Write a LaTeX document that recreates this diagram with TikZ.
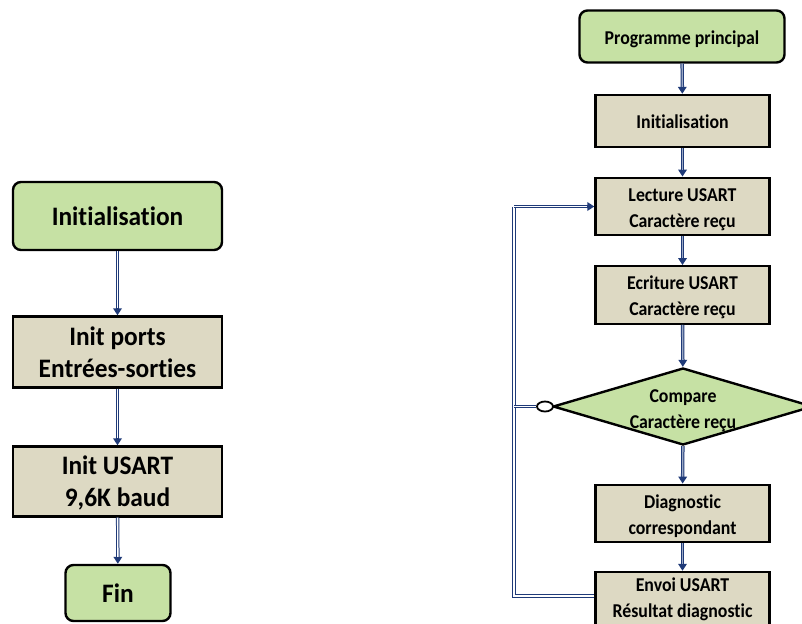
\documentclass[tikz,border=0pt]{standalone}
\usepackage{fontspec}
\usepackage{graphicx}
\setmainfont{Carlito}[Ligatures=NoCommon]
\usetikzlibrary{arrows.meta,shapes.geometric}
\definecolor{navy}{HTML}{1F3A78}
\definecolor{boxtan}{HTML}{DDD9C3}
\definecolor{termgreen}{HTML}{C6E1A4}
\definecolor{innerblue}{HTML}{9AA8C4}
\newcommand\stx[3]{\raisebox{0pt}[\dimexpr\height+#1\relax][\depth]{\scalebox{1}[#2]{\begin{tabular}{@{}c@{}}#3\end{tabular}}}}
\newcommand\smalltxt[1]{\stx{5.5pt}{1.1}{#1}}
\newcommand\lowtxt[1]{\stx{0pt}{1.1}{#1}}
\newcommand\bigtxt[1]{\stx{5.5pt}{1.05}{#1}}
\tikzset{
  procbox/.style={draw=black, line width=2.4pt, fill=boxtan, inner sep=0pt, align=center, font=\bfseries\fontsize{17.8}{23.6}\selectfont},
  bigproc/.style={procbox, font=\bfseries\fontsize{25.4}{30.5}\selectfont},
  termbox/.style={procbox, fill=termgreen, rounded corners=8pt},
  bigterm/.style={bigproc, fill=termgreen, rounded corners=8pt},
  conn/.style={draw=navy, line width=3.4pt, -{Triangle[width=8.5pt,length=7pt]},
    postaction={draw=#1, line width=1.4pt, shorten >=7pt, -}},
  conn/.default=white,
  loopline/.style={draw=navy, line width=3.4pt, postaction={draw=white, line width=1.4pt}},
}
\begin{document}
\begin{tikzpicture}[x=1pt,y=-1pt]
\useasboundingbox (0,0) rectangle (802,623);
% left column
\node[bigterm, minimum width=209pt, minimum height=68pt] (linit) at (117.5,216) {\bigtxt{Initialisation}};
\node[bigproc, minimum width=209pt, minimum height=71pt] (ports) at (117.5,352) {\bigtxt{Init ports\\Entrées-sorties}};
\node[bigproc, minimum width=209pt, minimum height=70pt] (usart) at (117.5,481.5) {\bigtxt{Init USART\\9,6K baud}};
\node[bigterm, minimum width=105pt, minimum height=56pt] (fin) at (118,593) {\bigtxt{Fin}};
\draw[conn] (linit) -- (ports);
\draw[conn] (ports) -- (usart);
\draw[conn] (usart) -- (fin);
% right column
\node[termbox, minimum width=205pt, minimum height=52pt] (prog) at (682,36.5) {\smalltxt{Programme principal}};
\node[procbox, minimum width=174pt, minimum height=52pt] (rinit) at (682.5,121) {\smalltxt{Initialisation}};
\node[procbox, minimum width=174pt, minimum height=52pt] (lect) at (682.5,206.5) {\smalltxt{Lecture USART\\Caractère reçu}};
\node[procbox, minimum width=174pt, minimum height=53pt] (ecr) at (682.5,295) {\smalltxt{Ecriture USART\\Caractère reçu}};
\node[diamond, draw=black, line width=2.4pt, fill=termgreen, inner sep=0pt, minimum width=260pt, minimum height=77pt, aspect=3.3] (cmp) at (683,406.5) {};
\node[inner sep=0pt, font=\bfseries\fontsize{17.8}{23.6}\selectfont] (cmptext) at (683,408) {\smalltxt{Compare\\Caractère reçu}};
\node[procbox, minimum width=174pt, minimum height=53pt] (diag) at (682.5,513.5) {\smalltxt{Diagnostic\\correspondant}};
\node[procbox, minimum width=174pt, minimum height=54pt] (envoi) at (682.5,599) {\lowtxt{Envoi USART\\Résultat diagnostic}};
\draw[conn=innerblue] (prog) -- (rinit);
\draw[conn=innerblue] (rinit) -- (lect);
\draw[conn=innerblue] (lect) -- (ecr);
\draw[conn=innerblue] (ecr) -- (cmp);
\draw[conn=innerblue] (cmp) -- (diag);
\draw[conn=innerblue] (diag) -- (envoi);
% loop
\coordinate (lx) at (514,596);
\draw[loopline] (envoi.west |- lx) -- (lx) -- (lx |- lect.west);
\draw[conn] (lx |- lect.west) -- (lect.west);
\node[ellipse, draw=black, line width=1.8pt, fill=white, minimum width=16pt, minimum height=10pt, inner sep=0pt] (circ) at (545,406.5) {};
\draw[loopline] (circ.west) -- (lx |- circ.west);
\end{tikzpicture}
\end{document}
